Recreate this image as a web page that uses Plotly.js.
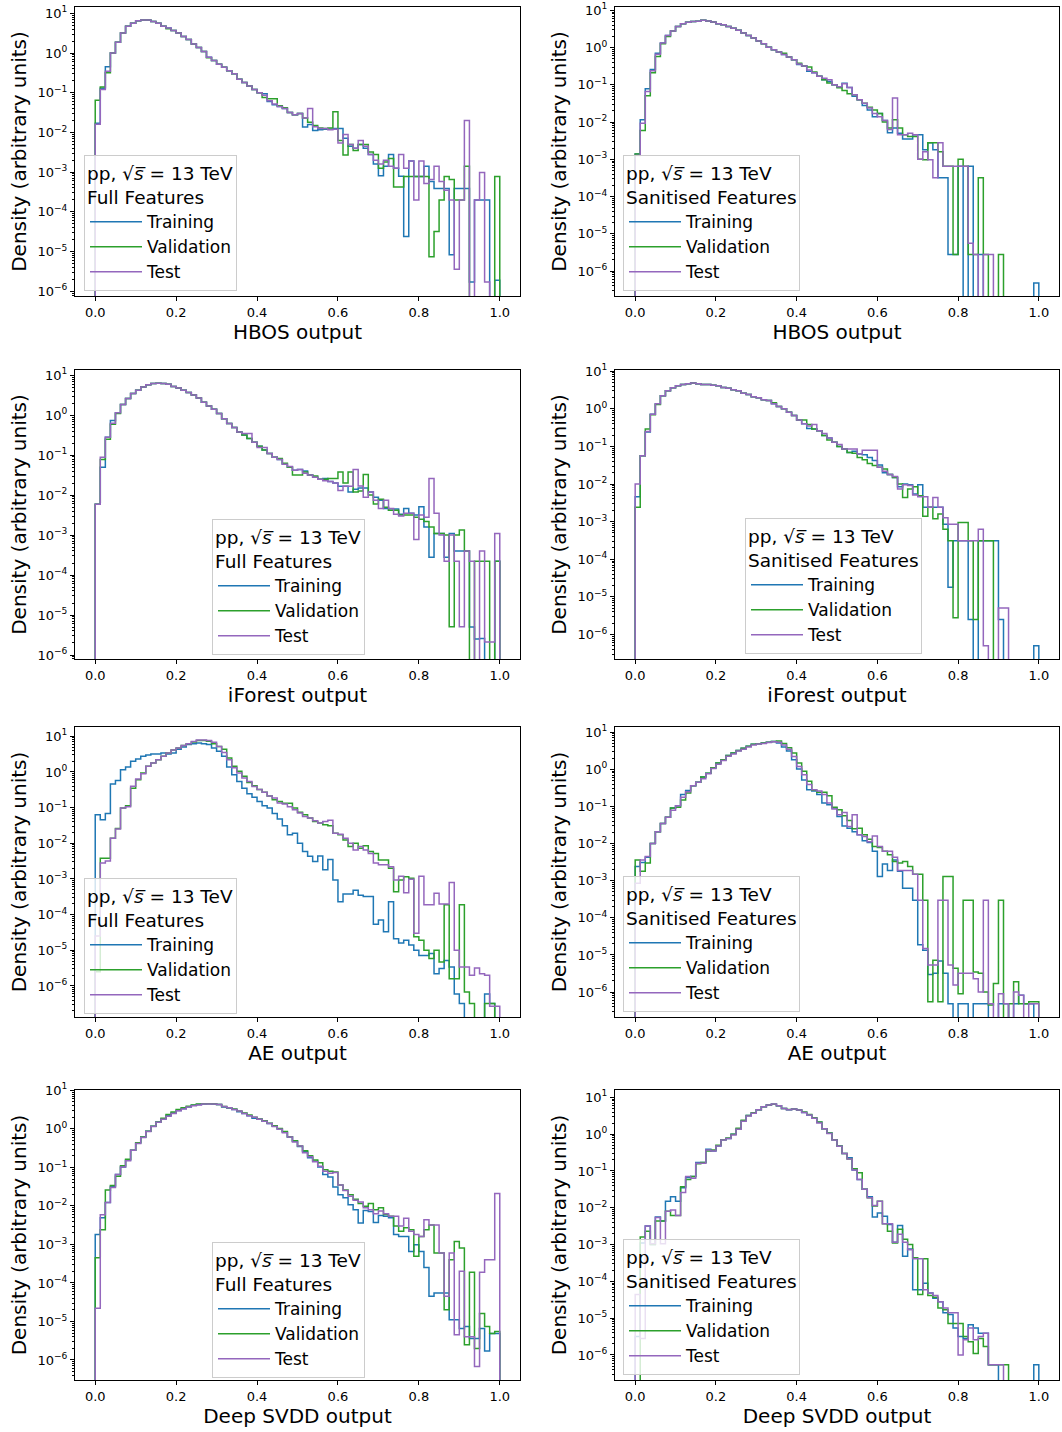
<!DOCTYPE html>
<html><head><meta charset="utf-8">
<script src="https://cdn.plot.ly/plotly-3.0.1.min.js"></script>
<style>html,body{margin:0;padding:0;background:#fff}</style>
</head><body><div id="chart" style="width:1062px;height:1432px"></div>
<script>
// ---- data: density per bin (80 bins on [0,1]) ----
const nBins = 80;
const seriesNames = ['Training', 'Validation', 'Test'];
const xTickVals = [0, 0.2, 0.4, 0.6, 0.8, 1.0];
const xTickText = ['0.0', '0.2', '0.4', '0.6', '0.8', '1.0'];
const yTickVals = [1e-6, 1e-5, 1e-4, 1e-3, 1e-2, 1e-1, 1, 10];
const yTickText = ['10<sup>−6</sup>', '10<sup>−5</sup>', '10<sup>−4</sup>', '10<sup>−3</sup>', '10<sup>−2</sup>', '10<sup>−1</sup>', '10<sup>0</sup>', '10<sup>1</sup>'];

const hbosFullTrain = [0.017,0.13,0.45,1.0,1.86,3.2,4.7,5.6,6.5,6.8, 6.8,6.2,5.6,4.7,4.3,3.7,3.2,2.6,2.2,1.7, 1.38,1.1,0.78,0.65,0.52,0.44,0.36,0.3,0.22,0.18, 0.148,0.12,0.1,0.095,0.06,0.05,0.045,0.04,0.032,0.028, 0.03,0.0138,0.0158,0.0112,0.0117,0.012,0.012,0.0126,0.0126,0.0071, 0.0045,0.004,0.005,0.004,0.0028,0.0016,8.1e-4,1.4e-3,2.8e-3,1.26e-3, 7.9e-4,2.4e-5,1.9e-3,7.8e-4,7.8e-4,1.4e-3,5.8e-4,3.9e-4,3.9e-4,3.9e-4, 8.3e-6,3.9e-4,3.9e-4,3.9e-4,1.7e-6,2e-4,2e-4,2e-4,0,1.9e-6];
const hbosFullVal = [0.065,0.14,0.32,1.0,1.86,3.2,4.7,5.6,6.5,6.8, 6.8,6.2,5.6,4.7,4.1,3.7,3.2,2.6,2.2,1.7, 1.38,1.1,0.76,0.65,0.52,0.44,0.36,0.3,0.22,0.18, 0.148,0.12,0.1,0.076,0.071,0.071,0.047,0.042,0.032,0.028, 0.03,0.023,0.018,0.015,0.013,0.0126,0.013,0.033,0.0063,0.0027, 0.005,0.0035,0.005,0.005,0.0032,0.0028,1.26e-3,1.8e-3,2.2e-3,4.2e-4, 4.2e-4,7.8e-4,7.8e-4,7.8e-4,7.8e-4,7.8e-4,7.4e-6,3.2e-5,2e-4,7.8e-4, 6.5e-4,2e-4,2e-4,1.4e-3,0,0,0,0,0,7.8e-4];
const hbosFullTest = [0.016,0.12,0.35,1.0,1.86,3.2,4.7,5.6,6.5,6.8, 6.8,6.2,5.6,4.7,4.3,3.7,3.2,2.6,2.2,1.7, 1.38,1.1,0.78,0.65,0.52,0.44,0.36,0.3,0.22,0.18, 0.148,0.12,0.1,0.087,0.063,0.052,0.045,0.04,0.032,0.028, 0.03,0.023,0.04,0.014,0.0126,0.0126,0.0117,0.012,0.0054,0.0089, 0.005,0.004,0.0063,0.0045,0.0028,0.002,1.6e-3,2e-3,1.4e-3,1.26e-3, 2.8e-3,1.26e-3,1.9e-3,2e-4,1.9e-3,5.2e-4,6.5e-4,1.4e-3,5.8e-4,3.5e-4, 2e-4,3.6e-6,2e-4,0.02,0,2e-4,9.8e-4,1.7e-6,0,0];

const hbosSanTrain = [1.4e-3,0.0115,0.078,0.26,0.7,1.32,2.1,2.8,3.7,4.4, 4.8,5.0,5.1,5.4,5.2,4.9,4.4,4.1,3.7,3.3, 2.9,2.45,2.1,1.8,1.5,1.26,1.02,0.87,0.76,0.65, 0.56,0.47,0.35,0.32,0.23,0.21,0.17,0.138,0.123,0.1, 0.087,0.11,0.085,0.049,0.04,0.028,0.021,0.014,0.017,0.011, 0.0052,0.0069,0.005,0.0035,0.0035,0.0046,0.0046,1.8e-3,2.8e-3,1.8e-3, 3.2e-4,3.2e-4,2.8e-6,2.8e-6,6.5e-4,0,6.5e-4,0,2.8e-6,0, 0,0,0,0,0,0,0,0,0,4.8e-7];
const hbosSanVal = [1.4e-3,5.9e-3,0.051,0.21,0.58,1.26,2.0,2.8,3.7,4.4, 4.8,5.0,5.1,5.4,5.2,4.9,4.4,4.1,3.7,3.3, 2.9,2.45,2.1,1.8,1.5,1.26,1.02,0.87,0.76,0.71, 0.56,0.47,0.38,0.32,0.3,0.22,0.17,0.138,0.112,0.1, 0.083,0.071,0.058,0.054,0.04,0.032,0.025,0.021,0.017,0.01, 0.0069,0.0115,0.0069,0.0046,0.0041,0.0041,1e-3,9.8e-4,2.8e-3,2.8e-3, 1.6e-3,6.5e-4,6.5e-4,2.8e-6,1e-3,6.5e-4,2.8e-6,2.8e-6,3.2e-4,2.8e-6, 0,0,2.8e-6,0,0,0,0,0,0,0];
const hbosSanTest = [1.26e-3,9.3e-3,0.066,0.24,0.66,1.32,2.1,2.8,3.7,4.4, 4.8,5.0,5.1,5.4,5.2,4.9,4.4,4.1,3.7,3.3, 2.9,2.45,2.1,1.8,1.5,1.26,1.02,0.87,0.76,0.65, 0.56,0.47,0.36,0.32,0.25,0.21,0.17,0.15,0.138,0.1, 0.089,0.107,0.085,0.054,0.04,0.032,0.024,0.017,0.014,0.011, 0.0063,0.044,0.0046,0.0046,0.005,0.0046,1e-3,1.6e-3,9.8e-4,3.2e-4, 2.8e-3,6.5e-4,6.5e-4,6.5e-4,6.5e-4,6.5e-4,5.6e-6,2.8e-6,0,2.8e-6, 2.8e-6,0,0,0,0,0,0,0,0,0];

const ifoFullTrain = [5.9e-3,0.05,0.28,0.74,1.15,1.86,2.6,3.5,4.2,5.1, 5.8,6.2,6.3,6.2,5.9,5.2,4.8,4.2,3.7,3.2, 2.7,2.1,1.7,1.4,1.1,0.81,0.62,0.49,0.38,0.32, 0.26,0.21,0.166,0.135,0.11,0.089,0.078,0.059,0.05,0.042, 0.044,0.04,0.032,0.028,0.025,0.026,0.022,0.02,0.0166,0.0166, 0.012,0.014,0.015,0.015,0.012,0.0089,0.0074,0.0046,0.0042,0.0045, 0.0033,0.0046,0.0035,0.0032,0.0051,1.6e-3,2.8e-4,1.1e-3,1.1e-3,2.8e-4, 1.1e-3,4e-4,4e-4,4e-4,5e-6,2.5e-6,2.6e-6,0,0,2.2e-4];
const ifoFullVal = [5.9e-3,0.078,0.25,0.59,1.1,1.86,2.6,3.5,4.2,5.1, 5.8,6.2,6.3,6.2,5.9,5.2,4.8,4.2,3.7,3.2, 2.7,2.1,1.7,1.4,1.1,0.81,0.62,0.49,0.38,0.32, 0.26,0.21,0.166,0.135,0.11,0.089,0.083,0.063,0.05,0.032, 0.032,0.038,0.032,0.03,0.025,0.025,0.026,0.026,0.038,0.02, 0.038,0.012,0.0126,0.033,0.01,0.006,0.0079,0.005,0.0042,0.0042, 0.0032,0.0032,0.0032,0.0028,0.0025,0.0022,1.6e-3,1.1e-3,1.1e-3,1e-3, 5.1e-6,1e-3,1.35e-3,4e-4,0,2.2e-4,2.2e-4,2.2e-4,0,2.2e-4];
const ifoFullTest = [5.9e-3,0.089,0.28,0.63,1.15,1.86,2.6,3.5,4.2,5.1, 5.8,6.2,6.3,6.2,5.9,5.2,4.8,4.2,3.7,3.2, 2.7,2.1,1.7,1.4,1.1,0.81,0.62,0.49,0.38,0.35, 0.35,0.21,0.155,0.155,0.11,0.089,0.078,0.059,0.052,0.042, 0.044,0.035,0.032,0.028,0.025,0.023,0.022,0.02,0.013,0.0166, 0.0166,0.044,0.017,0.0089,0.012,0.0074,0.0046,0.0074,0.0046,0.0033, 0.003,0.0035,0.0035,7.8e-4,0.0032,0.0028,0.026,0.0035,1e-3,2.2e-4, 1e-3,2.2e-4,5.1e-6,4e-4,2.2e-4,0,4e-4,2.1e-6,2.1e-6,1.1e-3];

const ifoSanTrain = [4.6e-3,0.056,0.24,0.72,1.35,2.2,3.0,3.6,4.1,4.4, 4.6,4.8,4.6,4.4,4.4,4.2,4.1,3.7,3.5,3.2, 3.0,2.6,2.4,2.1,1.95,1.74,1.66,1.35,1.15,1.0, 0.81,0.66,0.5,0.4,0.3,0.29,0.26,0.195,0.166,0.129, 0.1,0.085,0.069,0.074,0.063,0.06,0.051,0.042,0.032,0.02, 0.018,0.015,0.0085,0.01,0.0095,0.0054,0.0095,2.4e-3,2.4e-3,2.4e-3, 2.4e-3,8.5e-4,1.8e-5,3.1e-4,3.1e-4,3.1e-4,2.5e-6,0,3.1e-4,3.1e-4, 3.1e-4,3.1e-4,2.5e-6,0,0,0,0,0,0,5e-7];
const ifoSanVal = [2.4e-3,0.056,0.29,0.69,1.29,2.2,3.0,3.6,4.1,4.4, 4.6,4.8,4.6,4.4,4.4,4.2,4.1,3.7,3.5,3.2, 3.0,2.6,2.4,2.1,1.95,1.74,1.66,1.45,1.15,1.0, 0.81,0.66,0.5,0.5,0.38,0.29,0.26,0.195,0.148,0.129, 0.1,0.085,0.069,0.066,0.051,0.044,0.035,0.031,0.028,0.025, 0.018,0.015,0.01,0.0044,0.0074,0.0085,0.0049,1.4e-3,2.4e-3,1.2e-3, 1.6e-3,6.3e-4,3.1e-4,2.8e-6,9.5e-4,9.5e-4,3.1e-4,2.5e-6,3.1e-4,3.1e-4, 3.1e-4,0,0,0,0,0,0,0,0,0];
const ifoSanTest = [0.01,0.056,0.25,0.72,1.35,2.2,3.0,3.6,4.1,4.4, 4.6,4.8,4.6,4.4,4.4,4.2,4.1,3.7,3.5,3.2, 3.0,2.6,2.4,2.1,1.95,1.74,1.66,1.35,1.15,1.0, 0.81,0.66,0.5,0.4,0.35,0.38,0.26,0.22,0.166,0.129, 0.112,0.085,0.085,0.085,0.063,0.079,0.079,0.079,0.028,0.022, 0.018,0.0158,0.0074,0.0095,0.0091,0.0051,0.0046,0.0046,2.4e-3,0.0044, 2.4e-3,1.26e-3,8.5e-4,8.5e-4,3.1e-4,3.1e-4,3.1e-4,3.1e-4,6.3e-4,5e-7, 0,0,5.1e-6,5.1e-6,0,0,0,0,0,0];

const aeFullTrain = [0.063,0.046,0.068,0.46,0.58,1.15,1.38,2.0,2.3,2.75, 3.0,3.2,3.2,3.4,3.2,3.4,4.3,5.0,5.9,6.2, 6.5,6.2,5.9,4.7,3.8,2.75,1.38,0.83,0.54,0.35, 0.245,0.195,0.148,0.112,0.098,0.068,0.048,0.031,0.0174,0.019, 0.01,0.0059,0.0043,0.0031,0.0044,1.8e-3,0.0035,9.3e-4,2.3e-4,3.8e-4, 3.8e-4,4.8e-4,3.5e-4,3.2e-4,3.2e-4,5.4e-5,7.1e-5,3.3e-5,2.3e-4,2.1e-5, 1.6e-5,1.9e-5,1.4e-5,1e-5,7.2e-6,7.2e-6,8.1e-6,2.2e-6,3.1e-6,5.2e-6, 3.4e-6,6e-7,3.2e-7,0,0,0,0,6e-7,3.2e-7,0];
const aeFullVal = [2.5e-6,0.0038,0.0038,0.0138,0.026,0.098,0.112,0.35,0.6,0.93, 1.45,1.78,2.2,2.75,3.4,4.1,4.7,5.5,6.2,6.9, 7.6,7.6,7.2,6.2,5.2,4.3,2.45,1.45,1.05,0.76, 0.51,0.41,0.32,0.27,0.21,0.166,0.148,0.132,0.132,0.098, 0.074,0.063,0.051,0.041,0.037,0.033,0.031,0.019,0.0174,0.0123, 0.0081,0.01,0.0072,0.0085,0.0059,0.0052,0.0034,0.0034,2e-3,4.4e-4, 9.3e-4,1.15e-3,1.05e-3,2.4e-5,1.9e-5,1e-5,5.9e-6,1e-5,4.7e-6,1.9e-4, 1.6e-6,1.6e-6,1.9e-4,6.8e-7,3.2e-7,0,0,3.2e-7,3.2e-7,0];
const aeFullTest = [2.5e-5,0.0028,0.0032,0.0138,0.025,0.098,0.105,0.4,0.63,0.89, 1.45,1.78,2.2,2.75,3.4,4.1,4.7,5.5,6.2,7.1, 7.9,7.8,7.6,6.8,5.2,3.5,2.2,1.32,0.93,0.68, 0.54,0.39,0.32,0.27,0.21,0.186,0.135,0.126,0.105,0.087, 0.071,0.056,0.051,0.043,0.037,0.041,0.044,0.019,0.018,0.0138, 0.01,0.0065,0.0081,0.0065,0.0052,0.0028,0.0025,0.0025,0.0022,9.3e-4, 1.2e-3,4.1e-4,9.8e-4,3e-5,1.2e-3,1.9e-4,1.9e-4,4e-4,2e-4,2e-4, 7.9e-4,1e-5,3.4e-6,3.4e-6,2e-6,3.2e-6,2.2e-6,2e-6,2.7e-7,2.7e-7];

const aeSanTrain = [2.4e-3,3.1e-3,4.3e-3,0.01,0.021,0.035,0.051,0.091,0.105,0.21, 0.27,0.36,0.45,0.62,0.79,1.1,1.48,1.82,2.35,2.75, 3.2,3.7,4.2,4.7,4.9,5.1,5.4,5.6,5.1,4.0, 3.1,1.82,1.02,0.52,0.28,0.26,0.21,0.123,0.112,0.091, 0.054,0.03,0.026,0.021,0.0174,0.012,0.0107,0.0062,1.3e-3,2.8e-3, 1.9e-3,3.6e-3,1.8e-3,6.3e-4,6.3e-4,3e-4,1.9e-5,1.35e-5,3e-6,3.2e-6, 6.9e-6,3.2e-6,4.9e-7,0,4.9e-7,4.9e-7,0,4.9e-7,4.9e-7,4.9e-7, 0,0,4.9e-7,4.9e-7,0,4.9e-7,8.3e-7,4.9e-7,4.9e-7,0];
const aeSanVal = [3.6e-3,1.8e-3,3e-3,0.01,0.021,0.035,0.051,0.091,0.095,0.15, 0.23,0.36,0.45,0.62,0.79,1.1,1.48,1.82,2.35,2.75, 3.2,3.7,4.2,4.7,4.9,5.1,5.4,5.6,5.8,5.0, 3.8,2.75,1.48,0.89,0.48,0.275,0.24,0.24,0.195,0.095, 0.081,0.056,0.042,0.025,0.026,0.0174,0.013,0.0083,0.0079,0.0062, 0.005,0.0033,0.003,0.0033,0.0024,1.5e-3,1.5e-3,3e-4,5.5e-7,7.2e-6, 5.5e-7,1.3e-3,1.3e-3,4.4e-6,9.1e-7,3e-4,3e-4,3.5e-6,3.2e-6,1e-6, 4.5e-7,1.7e-6,3e-4,0,4.9e-7,1.9e-6,4.9e-7,4.9e-7,5.5e-7,5.5e-7];
const aeSanTest = [8.5e-4,3.6e-3,4.5e-3,0.01,0.021,0.035,0.051,0.079,0.105,0.178, 0.25,0.36,0.45,0.56,0.76,1.05,1.38,1.74,2.24,2.6, 3.1,3.5,4.0,4.5,4.8,5.0,5.25,5.5,5.4,4.5, 3.5,2.2,1.2,0.72,0.39,0.28,0.26,0.21,0.123,0.085, 0.06,0.069,0.029,0.06,0.0174,0.0155,0.0112,0.016,0.0083,0.0062, 0.0062,0.0043,1.9e-3,1.9e-3,1.9e-3,1.5e-3,3e-4,1.5e-5,5.4e-6,5.4e-6, 3e-4,3e-4,5.4e-6,1.55e-6,3.2e-6,3.2e-6,3.2e-6,2.3e-6,1e-6,3e-4, 4.9e-7,0,9.1e-7,4.9e-7,0,1e-6,8.3e-7,0,4.9e-7,4.9e-7];

const svddFullTrain = [1.8e-3,4.9e-3,0.0123,0.032,0.065,0.102,0.155,0.28,0.44,0.62, 0.87,1.17,1.51,1.82,2.24,2.6,3.0,3.4,3.7,4.1, 4.3,4.4,4.5,4.4,4.3,3.7,3.5,3.2,2.8,2.5, 2.2,1.9,1.78,1.58,1.38,1.17,1.0,0.83,0.62,0.48, 0.35,0.26,0.178,0.145,0.102,0.065,0.056,0.031,0.0195,0.0162, 0.0107,0.0079,0.0036,0.0076,0.0072,0.0037,0.0056,0.0054,0.0049,1.8e-3, 1.6e-3,1.6e-3,6.6e-4,9.8e-4,6.6e-4,2.5e-4,4.5e-5,5.5e-5,5.5e-5,5.5e-5, 1.1e-5,1.1e-5,6.6e-6,7.4e-6,3.6e-6,3.6e-6,6.6e-6,1.7e-6,4.9e-6,4.9e-6];
const svddFullVal = [4.5e-4,2.4e-3,0.026,0.034,0.059,0.11,0.162,0.28,0.44,0.62, 0.87,1.17,1.51,1.9,2.35,2.75,3.2,3.55,3.9,4.2, 4.4,4.5,4.5,4.5,4.3,3.8,3.55,3.3,2.9,2.6, 2.3,2.0,1.82,1.62,1.41,1.2,1.02,0.85,0.63,0.49, 0.36,0.27,0.2,0.155,0.132,0.087,0.079,0.076,0.035,0.026, 0.0195,0.015,0.0115,0.0098,0.0115,0.0079,0.0089,0.006,0.0054,0.003, 0.0022,0.0027,0.0024,4.9e-4,1.6e-3,0.0024,0.0032,6e-4,6e-4,2e-5, 4e-4,1.2e-3,8.1e-4,2.5e-6,1.9e-4,2e-6,1.6e-5,7.4e-6,4.9e-6,5.5e-6];
const svddFullTest = [2.2e-5,5.9e-3,0.0123,0.03,0.065,0.102,0.148,0.28,0.42,0.6, 0.85,1.15,1.48,1.78,2.14,2.5,2.95,3.3,3.7,4.0, 4.2,4.4,4.4,4.4,4.3,3.8,3.55,3.2,2.9,2.5, 2.2,2.0,1.78,1.58,1.38,1.15,0.98,0.79,0.62,0.46, 0.36,0.24,0.19,0.141,0.107,0.079,0.071,0.074,0.035,0.025, 0.0178,0.0141,0.0126,0.0089,0.0079,0.0063,0.0074,0.0063,0.0054,0.0054, 0.003,0.0048,0.0022,1.8e-3,1.6e-3,0.0044,0.0032,0.0032,6e-4,4.5e-5, 6e-4,4.5e-6,2e-4,4e-6,4e-6,6.8e-7,1.9e-4,4e-4,4e-4,0.021];

const svddSanTrain = [3.2e-6,1.1e-3,3.2e-3,1e-3,5.6e-3,4.4e-3,0.015,0.02,0.015,0.035, 0.066,0.071,0.17,0.17,0.39,0.35,0.48,0.71,0.76,1.0, 1.38,2.3,3.2,3.7,4.6,5.6,6.2,6.5,5.9,5.0, 4.6,4.8,4.5,3.9,3.3,2.7,2.1,1.41,1.07,0.71, 0.48,0.3,0.23,0.107,0.059,0.032,0.02,5.6e-3,7.2e-3,5.9e-3, 3.5e-3,1.15e-3,3.3e-3,4.8e-4,7.6e-4,5.9e-5,5.9e-5,8.9e-5,4.8e-5,3.5e-5, 2.8e-5,1.4e-5,1.26e-5,5.4e-6,3.2e-6,2.8e-6,6.6e-6,5.4e-6,3.9e-6,3.9e-6, 5.4e-7,5.4e-7,0,0,0,0,0,0,0,5.4e-7];
const svddSanVal = [0,1.6e-3,2.3e-3,1e-3,4.4e-3,4.4e-3,8.1e-3,6.2e-3,6.2e-3,0.037, 0.059,0.071,0.158,0.17,0.35,0.37,0.5,0.71,0.79,1.0, 1.45,2.4,3.2,3.8,4.6,5.6,6.2,6.5,5.9,5.0, 4.7,4.8,4.5,4.0,3.4,2.8,2.14,1.41,1.07,0.71, 0.48,0.3,0.21,0.115,0.089,0.032,0.0186,0.0112,0.015,3.7e-3, 2.3e-3,1.1e-3,2.6e-3,1.4e-3,1e-3,4.4e-4,4.4e-5,4.1e-4,4.1e-5,3.7e-5, 1.9e-5,1.7e-5,7.2e-6,7.2e-6,7.2e-6,3.2e-6,2.3e-6,1.1e-6,2.8e-6,1.7e-6, 5.4e-7,5.4e-7,5.4e-7,5.4e-7,0,0,0,0,0,0];
const svddSanTest = [4.4e-5,2.8e-6,3.2e-3,1.05e-3,5.4e-3,1.05e-3,8.1e-3,8.7e-3,6.2e-3,0.026, 0.071,0.063,0.162,0.162,0.37,0.35,0.48,0.69,0.76,0.95, 1.35,2.24,3.1,3.7,4.6,5.6,6.2,6.6,5.9,5.0, 4.6,4.8,4.5,3.9,3.3,2.7,2.0,1.41,1.05,0.69, 0.47,0.3,0.21,0.107,0.059,0.032,0.0186,0.0115,0.015,3.7e-3, 3.7e-3,1.15e-3,1.9e-3,1.15e-3,7.2e-4,4.1e-4,4.1e-4,5.9e-5,4.8e-5,4.1e-5, 2.8e-5,1.9e-5,1.4e-5,1.4e-5,1e-6,2.6e-6,5.4e-6,2.6e-6,3.2e-6,3.9e-6, 5.4e-7,5.4e-7,5.4e-7,0,0,0,0,0,0,0];

// ---- panel configuration (layout only) ----
const W = 1062, H = 1432;
const colX = [[75, 520], [615, 1059]];
const rowY = [[7, 296], [370, 659], [727, 1017], [1090, 1380]];
const panels = [
  {s:[hbosFullTrain,hbosFullVal,hbosFullTest], xt:'HBOS output', feat:'Full Features', yr:[-6.12,1.16], c:0, r:0, leg:[84,155]},
  {s:[hbosSanTrain,hbosSanVal,hbosSanTest], xt:'HBOS output', feat:'Sanitised Features', yr:[-6.67,1.09], c:1, r:0, leg:[623,155]},
  {s:[ifoFullTrain,ifoFullVal,ifoFullTest], xt:'iForest output', feat:'Full Features', yr:[-6.1,1.13], c:0, r:1, leg:[212,519]},
  {s:[ifoSanTrain,ifoSanVal,ifoSanTest], xt:'iForest output', feat:'Sanitised Features', yr:[-6.65,1.03], c:1, r:1, leg:[745,518]},
  {s:[aeFullTrain,aeFullVal,aeFullTest], xt:'AE output', feat:'Full Features', yr:[-6.87,1.26], c:0, r:2, leg:[84,878]},
  {s:[aeSanTrain,aeSanVal,aeSanTest], xt:'AE output', feat:'Sanitised Features', yr:[-6.67,1.14], c:1, r:2, leg:[623,876]},
  {s:[svddFullTrain,svddFullVal,svddFullTest], xt:'Deep SVDD output', feat:'Full Features', yr:[-6.52,1.01], c:0, r:3, leg:[212,1242]},
  {s:[svddSanTrain,svddSanVal,svddSanTest], xt:'Deep SVDD output', feat:'Sanitised Features', yr:[-6.68,1.2], c:1, r:3, leg:[623,1239]}
];
const colors = ['#1f77b4', '#2ca02c', '#9467bd'];

const edges = Array.from({length: nBins + 1}, (_, i) => i / nBins);
const FLOOR = 1e-12;
function stepXY(vals) {
  const x = [edges[0]], y = [FLOOR];
  for (let i = 0; i < nBins; i++) { x.push(edges[i]); y.push(vals[i] > 0 ? vals[i] : FLOOR); }
  x.push(edges[nBins]); y.push(vals[nBins - 1] > 0 ? vals[nBins - 1] : FLOOR);
  x.push(edges[nBins]); y.push(FLOOR);
  return {x, y};
}

const traces = [];
const layout = {
  width: W, height: H, margin: {l: 0, r: 0, t: 0, b: 0},
  paper_bgcolor: 'white', plot_bgcolor: 'white',
  font: {family: 'DejaVu Sans, sans-serif', color: 'black', size: 13},
  showlegend: true
};

panels.forEach((p, k) => {
  const n = k + 1;
  const xa = 'x' + (n === 1 ? '' : n), ya = 'y' + (n === 1 ? '' : n);
  const legName = n === 1 ? 'legend' : 'legend' + n;
  p.s.forEach((vals, j) => {
    const d = stepXY(vals);
    traces.push({
      type: 'scatter', mode: 'lines', x: d.x, y: d.y, xaxis: xa, yaxis: ya,
      name: seriesNames[j], legend: legName,
      line: {color: colors[j], width: 1.5, shape: 'hv'},
      hoverinfo: 'skip'
    });
  });
  const [x0, x1] = colX[p.c], [t0, b0] = rowY[p.r];
  layout['xaxis' + (n === 1 ? '' : n)] = {
    domain: [x0 / W, x1 / W], anchor: ya, range: [-0.05, 1.05],
    tickmode: 'array', tickvals: xTickVals, ticktext: xTickText,
    ticks: 'outside', ticklen: 4, tickwidth: 1, tickcolor: 'black',
    showline: true, mirror: true, linecolor: 'black', linewidth: 1,
    showgrid: false, zeroline: false, tickfont: {size: 13},
    title: {text: p.xt, font: {size: 20}, standoff: 5}
  };
  layout['yaxis' + (n === 1 ? '' : n)] = {
    domain: [1 - b0 / H, 1 - t0 / H], anchor: xa, type: 'log', range: p.yr,
    tickmode: 'array', tickvals: yTickVals, ticktext: yTickText,
    ticks: 'outside', ticklen: 4, tickwidth: 1, tickcolor: 'black',
    minor: {ticks: 'outside', ticklen: 2, tickcolor: 'black', dtick: 'D1', showgrid: false},
    showline: true, mirror: true, linecolor: 'black', linewidth: 1,
    showgrid: false, zeroline: false, tickfont: {size: 13},
    title: {text: 'Density (arbitrary units)', font: {size: 20}, standoff: 5}
  };
  layout[legName] = {
    x: p.leg[0] / W, y: 1 - p.leg[1] / H, xanchor: 'left', yanchor: 'top',
    bgcolor: 'rgba(255,255,255,0.8)', bordercolor: '#cccccc', borderwidth: 1,
    font: {size: 17, color: 'black'}, itemwidth: 52,
    title: {text: 'pp, √<i>s\u0305</i> = 13 TeV<br>' + p.feat, font: {size: 18.5}}
  };
});

Plotly.newPlot('chart', traces, layout, {staticPlot: true});
</script>
</body></html>
